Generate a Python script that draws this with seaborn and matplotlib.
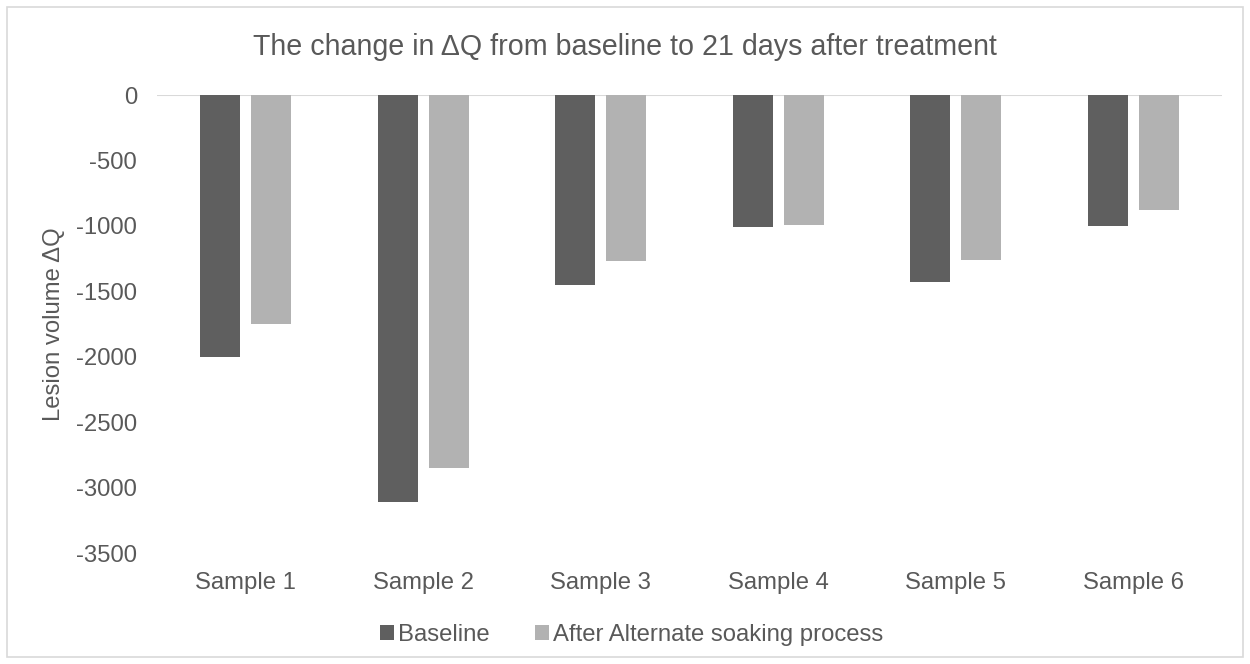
import matplotlib
matplotlib.use("Agg")
import matplotlib.pyplot as plt
from matplotlib.patches import Patch, Rectangle
import pandas as pd
import seaborn as sns

# Data
samples = ["Sample 1", "Sample 2", "Sample 3", "Sample 4", "Sample 5", "Sample 6"]
baseline = [-2000, -3110, -1450, -1010, -1430, -1000]
after_soaking = [-1750, -2850, -1270, -990, -1260, -880]
series_names = ["Baseline", "After Alternate soaking process"]
y_ticks = [0, -500, -1000, -1500, -2000, -2500, -3000, -3500]

title = "The change in \u0394Q from baseline to 21 days after treatment"
y_label = "Lesion volume \u0394Q"

colors = ["#5f5f5f", "#b2b2b2"]
text_color = "#595959"
line_color = "#d9d9d9"

sns.set_theme(style="white")
plt.rcParams["font.family"] = ["Liberation Sans", "DejaVu Sans"]

df = pd.DataFrame({
    "sample": samples * 2,
    "value": baseline + after_soaking,
    "series": [series_names[0]] * len(samples) + [series_names[1]] * len(samples),
})

W, H = 1250, 664
fig = plt.figure(figsize=(W / 100, H / 100), dpi=100)
fig.patch.set_facecolor("white")
ax = fig.add_axes([157 / W, 1 - 553 / H, (1222 - 157) / W, (553 - 95) / H])

sns.barplot(
    data=df, x="sample", y="value", hue="series",
    order=samples, hue_order=series_names, palette=colors,
    width=0.5727, gap=0.2126, linewidth=0, errorbar=None,
    legend=False, ax=ax,
)

ax.set_ylim(-3500, 0)
ax.set_xlim(-0.5, len(samples) - 0.5)
ax.set_yticks(y_ticks)
ax.set_yticklabels([str(t) for t in y_ticks])
ax.axhline(0, color=line_color, lw=1.5, zorder=0)
ax.set_xlabel("")
ax.set_ylabel("")
for s in ax.spines.values():
    s.set_visible(False)
ax.tick_params(axis="both", length=0, labelsize=17.2, labelcolor=text_color)
ax.tick_params(axis="y", pad=14.4)
ax.tick_params(axis="x", pad=13.5)
ax.grid(False)

fig.text(0.5, 1 - 55 / H, title, ha="center", va="baseline",
         fontsize=20.6, color=text_color)
fig.text(54 / W, 1 - 324 / H, y_label, ha="center", va="center",
         rotation=90, fontsize=17.2, color=text_color)

handles = [Patch(facecolor=c, edgecolor="none") for c in colors]
fig.legend(handles, series_names, loc="center",
           bbox_to_anchor=(632 / W, 1 - 635 / H), ncol=2, frameon=False,
           fontsize=17.2, labelcolor=text_color,
           handlelength=0.55, handleheight=0.55,
           handletextpad=0.2, columnspacing=1.9)

# Chart border
fig.add_artist(Rectangle((7 / W, 7 / H), (W - 14) / W, (H - 14) / H,
                         transform=fig.transFigure, fill=False,
                         edgecolor=line_color, lw=1.2))

fig.savefig("out.png", dpi=100, facecolor="white")
